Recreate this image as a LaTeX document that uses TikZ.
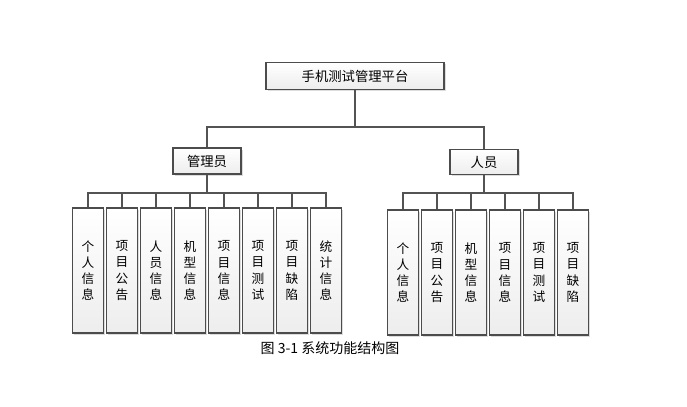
\documentclass[tikz,border=0pt]{standalone}
\usepackage{fontspec}
\newfontfamily\cjk{Noto Sans CJK SC}
\usetikzlibrary{shadows}

\tikzset{
  box/.style={draw=gray!60!black, line width=0.8pt, top color=white, bottom color=gray!14,
    drop shadow={shadow xshift=1.2pt, shadow yshift=-1.2pt, fill=gray!55}, inner sep=0pt},
  leaf/.style={box, minimum width=23.25pt, minimum height=93.75pt, align=center,
    font=\cjk\fontsize{9.5}{12.2}\selectfont},
  link/.style={draw=gray!65!black, line width=0.9pt}
}

\begin{document}
\begin{tikzpicture}[x=0.75pt, y=-0.75pt]
  \useasboundingbox (0, 0) rectangle (687, 407);

  % Root and the two roles
  \node[box, minimum width=133.5pt, minimum height=20.25pt, font=\cjk\fontsize{10}{12}\selectfont] (root) at (355, 76) {手机测试管理平台};
  \node[box, minimum width=51pt, minimum height=19.5pt, font=\cjk\fontsize{10}{12}\selectfont] (admin) at (207, 161) {管理员};
  \node[box, minimum width=51pt, minimum height=19pt, font=\cjk\fontsize{10}{12}\selectfont] (staff) at (484, 162) {人员};

  % Bus lines
  \coordinate (rootbus) at (355, 127);
  \coordinate (adminbus) at (207, 193);
  \coordinate (staffbus) at (484, 193);
  \draw[link] (root.south) -- (rootbus);
  \draw[link] (admin.north) |- (rootbus);
  \draw[link] (staff.north) |- (rootbus);
  \draw[link] (admin.south) -- (adminbus);
  \draw[link] (staff.south) -- (staffbus);

  % Functions of the administrator
  \foreach \i/\x/\txt in {1/88/个\\人\\信\\息, 2/122/项\\目\\公\\告, 3/156/人\\员\\信\\息,
      4/190/机\\型\\信\\息, 5/224/项\\目\\信\\息, 6/258/项\\目\\测\\试,
      7/292/项\\目\\缺\\陷, 8/326/统\\计\\信\\息} {
    \node[leaf] (admin\i) at (\x, 270.5) {\txt};
    \draw[link] (admin\i.north) |- (adminbus);
  }

  % Functions of the staff
  \foreach \i/\x/\txt in {1/403/个\\人\\信\\息, 2/437/项\\目\\公\\告, 3/471/机\\型\\信\\息,
      4/505/项\\目\\信\\息, 5/539/项\\目\\测\\试, 6/573/项\\目\\缺\\陷} {
    \node[leaf] (staff\i) at (\x, 272.5) {\txt};
    \draw[link] (staff\i.north) |- (staffbus);
  }

  % Caption
  \node[font=\cjk\fontsize{10.5}{12}\selectfont] (caption) at (330, 348) {图 3-1 系统功能结构图};
\end{tikzpicture}
\end{document}
